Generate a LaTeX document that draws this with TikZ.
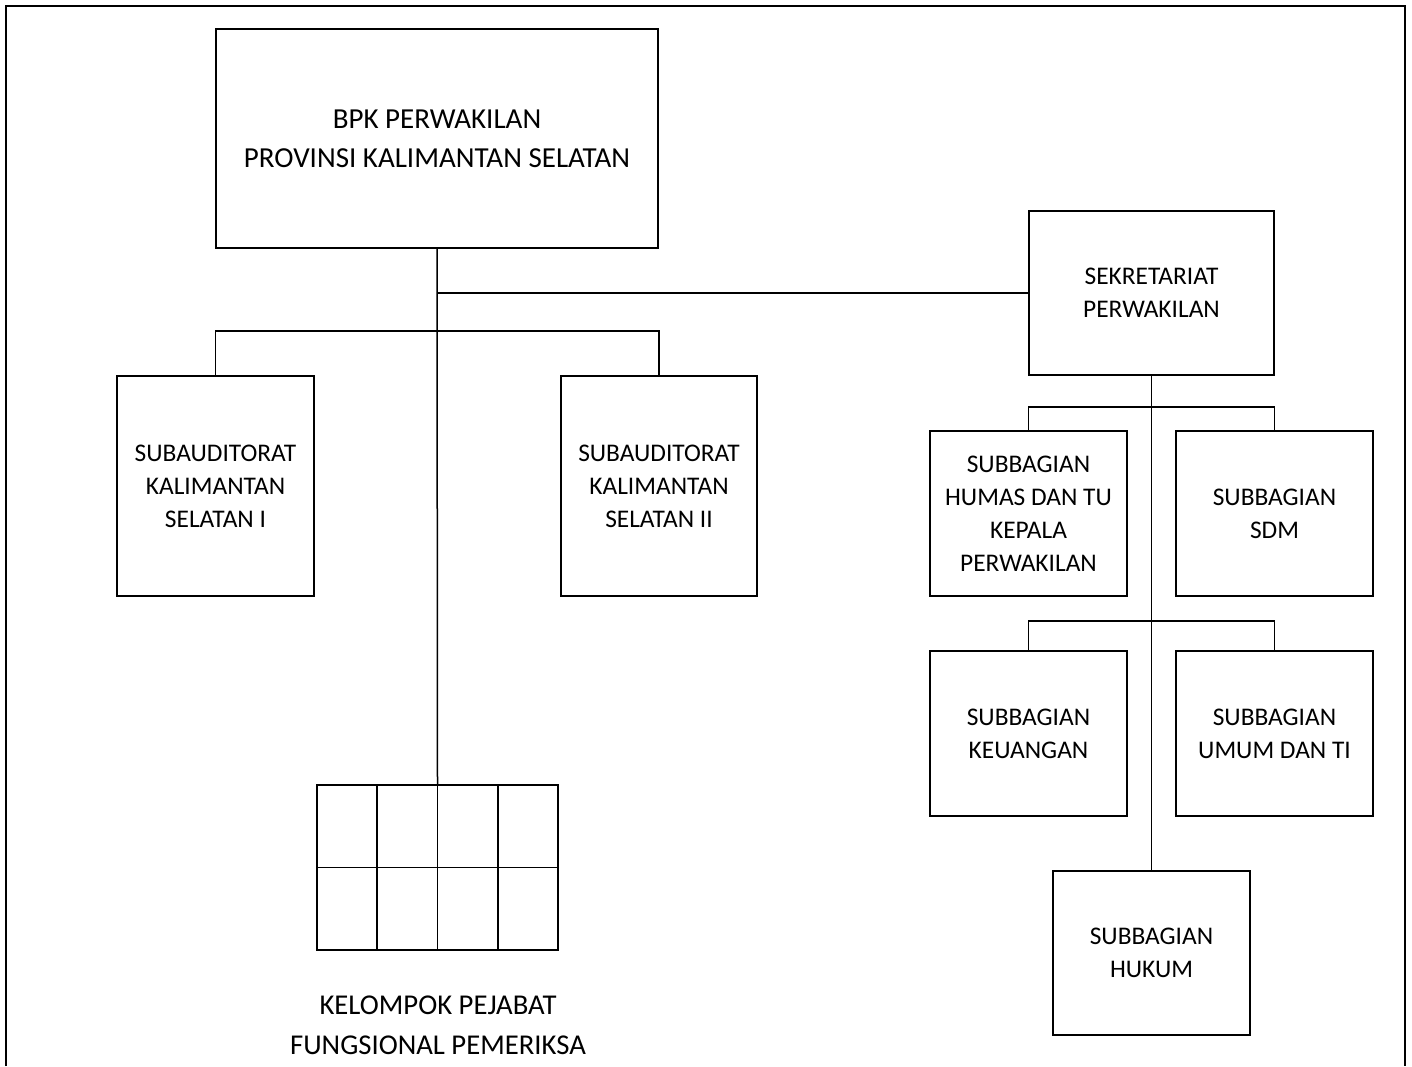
\documentclass[tikz,border=0pt]{standalone}
\usepackage{fontspec}
\setmainfont{Carlito}
\usetikzlibrary{calc}
\begin{document}
\begin{tikzpicture}[x=1pt,y=-1pt,
  box/.style={draw, line width=1.5pt, align=center, inner sep=0pt, outer sep=0pt,
    font=\fontsize{25.4}{33}\selectfont},
  bigbox/.style={box, font=\fontsize{29}{39}\selectfont},
  link/.style={line width=1.5pt},
  lbl/.style={align=center, inner sep=0pt, font=\fontsize{28.7}{40}\selectfont}]
\useasboundingbox (0,0) rectangle (1412,1066);
% outer frame
\draw[line width=2pt] (6,1066) -- (6,6) -- (1405,6) -- (1405,1066);

% left part
\node[bigbox, minimum width=442, minimum height=219] (top) at (437,138.5)
  {BPK PERWAKILAN\\PROVINSI KALIMANTAN SELATAN};
\node[box, minimum width=197, minimum height=220] (sub1) at (215.5,486)
  {SUBAUDITORAT\\KALIMANTAN\\SELATAN I};
\node[box, minimum width=196, minimum height=220] (sub2) at (659,486)
  {SUBAUDITORAT\\KALIMANTAN\\SELATAN II};
\node[draw, line width=1.5pt, inner sep=0pt, minimum width=241, minimum height=165] (grid) at (437.5,867.5) {};
\foreach \f in {0.25,0.5,0.75}
  \draw[line width=1.5pt] ($(grid.north west)!\f!(grid.north east)$) -- ($(grid.south west)!\f!(grid.south east)$);
\draw[line width=1.5pt] (grid.west) -- (grid.east);
\node[lbl] (kel) at (438,1025) {KELOMPOK PEJABAT\\FUNGSIONAL PEMERIKSA};

% right part
\node[box, minimum width=245, minimum height=164] (sek) at (1151.5,293)
  {SEKRETARIAT\\PERWAKILAN};
\node[box, minimum width=197, minimum height=165] (humas) at (1028.5,513.5)
  {SUBBAGIAN\\HUMAS DAN TU\\KEPALA\\PERWAKILAN};
\node[box, minimum width=197, minimum height=165] (sdm) at (1274.5,513.5)
  {SUBBAGIAN\\SDM};
\node[box, minimum width=197, minimum height=165] (keu) at (1028.5,733.5)
  {SUBBAGIAN\\KEUANGAN};
\node[box, minimum width=197, minimum height=165] (umum) at (1274.5,733.5)
  {SUBBAGIAN\\UMUM DAN TI};
\node[box, minimum width=197, minimum height=164] (hukum) at (1151.5,953)
  {SUBBAGIAN\\HUKUM};

% connectors
\coordinate (bus1) at (437,331);
\coordinate (bus2) at (1151.5,407);
\coordinate (bus3) at (1151.5,621);
\draw[link] (top.south) -- (grid.north);
\draw[link] (top.south |- sek.west) -- (sek.west);
\draw[link] (sub1.north) |- (bus1) -| (sub2.north);
\draw[link] (sek.south) -- (hukum.north);
\draw[link] (humas.north) |- (bus2) -| (sdm.north);
\draw[link] (keu.north) |- (bus3) -| (umum.north);
\end{tikzpicture}
\end{document}
